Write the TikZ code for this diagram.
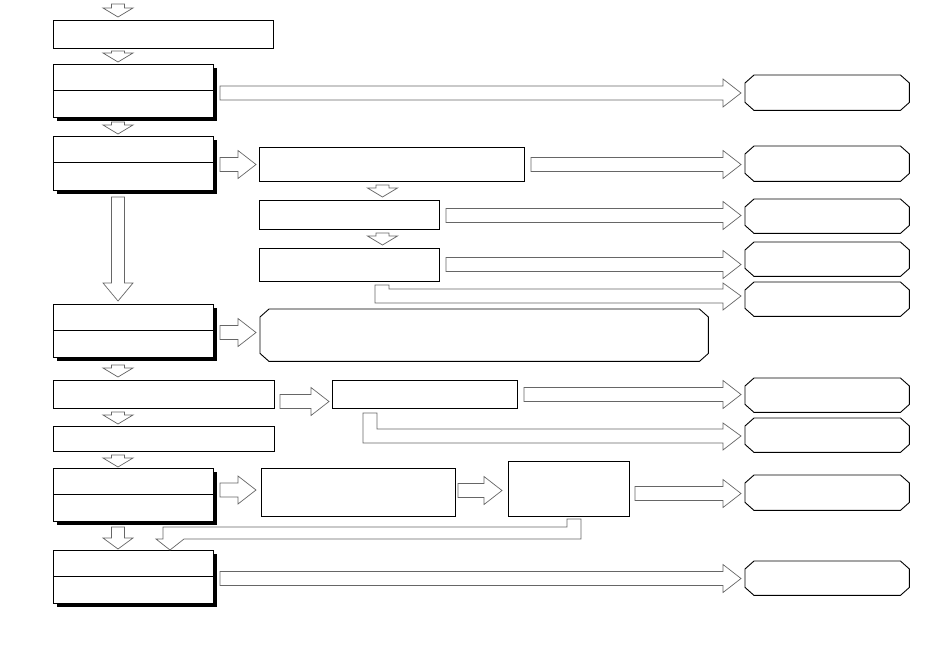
\documentclass[tikz,border=0pt]{standalone}
\usetikzlibrary{calc,shadows}
\tikzset{
  box/.style={draw=black, line width=1pt, fill=white, rectangle, inner sep=0pt, anchor=north west},
  sbox/.style={box, drop shadow={shadow xshift=3.5pt, shadow yshift=-3pt, fill=black, opacity=1}},
  oct/.style={rectangle, inner sep=0pt, anchor=north west},
  octline/.style={draw=black, line width=0.9pt, fill=white, line join=miter},
  barrow/.style={draw=black!60, line width=0.7pt, fill=white, line join=miter},
  divline/.style={draw=black, line width=1pt}
}
\newcommand\rarr[2]{\draw[barrow] let \p1=(#1), \p2=(#2) in
  (\x1,\y1+7pt) -- (\x2-18pt,\y1+7pt) -- (\x2-18pt,\y1+14pt) -- (\x2,\y1)
  -- (\x2-18pt,\y1-14pt) -- (\x2-18pt,\y1-7pt) -- (\x1,\y1-7pt) -- cycle;}
\newcommand\darr[3]{\draw[barrow] let \p1=(#1), \p2=(#2) in
  (\x1-6.5pt,\y1) -- (\x1+6.5pt,\y1) -- (\x1+6.5pt,\y2+#3pt) -- (\x1+15pt,\y2+#3pt)
  -- (\x1,\y2) -- (\x1-15pt,\y2+#3pt) -- (\x1-6.5pt,\y2+#3pt) -- cycle;}
\begin{document}
\begin{tikzpicture}[x=1pt,y=-1pt]
\useasboundingbox (0,0) rectangle (950,648);

% left column
\node[box, minimum width=220pt, minimum height=28pt] (A) at (53,20) {};
\node[sbox, minimum width=160pt, minimum height=53pt] (B) at (53,64) {};
\node[sbox, minimum width=160pt, minimum height=54pt] (C) at (53,136) {};
\node[sbox, minimum width=160pt, minimum height=53pt] (G) at (53,304) {};
\node[box, minimum width=221pt, minimum height=28pt] (H) at (53,380) {};
\node[box, minimum width=221pt, minimum height=25pt] (J) at (53,426) {};
\node[sbox, minimum width=160pt, minimum height=53pt] (K) at (53,468) {};
\node[sbox, minimum width=160pt, minimum height=53pt] (N) at (53,550) {};
\foreach \n in {B,C,G,K,N}{
  \draw[divline] ($(\n.north west)+(0,26)$) -- ($(\n.north east)+(0,26)$);
}

% middle boxes
\node[box, minimum width=265pt, minimum height=34pt] (D) at (259,147) {};
\node[box, minimum width=180pt, minimum height=29pt] (E) at (259,200) {};
\node[box, minimum width=180pt, minimum height=33pt] (F) at (259,248) {};
\node[box, minimum width=185pt, minimum height=28pt] (I) at (332,380) {};
\node[box, minimum width=194pt, minimum height=48pt] (L) at (261,468) {};
\node[box, minimum width=121pt, minimum height=55pt] (M) at (508,461) {};

% octagons (named frames, outline drawn with cut corners)
\node[oct, minimum width=164pt, minimum height=35pt] (O1) at (745,75) {};
\node[oct, minimum width=164pt, minimum height=35pt] (O2) at (745,146) {};
\node[oct, minimum width=164pt, minimum height=34pt] (O3) at (745,199) {};
\node[oct, minimum width=164pt, minimum height=34pt] (O4) at (745,242) {};
\node[oct, minimum width=164pt, minimum height=34pt] (O5) at (745,282) {};
\node[oct, minimum width=448pt, minimum height=52pt] (O6) at (260,309) {};
\node[oct, minimum width=164pt, minimum height=34pt] (O7) at (745,378) {};
\node[oct, minimum width=164pt, minimum height=34pt] (O8) at (745,418) {};
\node[oct, minimum width=164pt, minimum height=35pt] (O9) at (745,475) {};
\node[oct, minimum width=164pt, minimum height=34pt] (O10) at (745,561) {};
\foreach \o in {O1,O2,O3,O4,O5,O6,O7,O8,O9,O10}{
  \draw[octline] ($(\o.north west)+(9,0)$) -- ($(\o.north east)+(-9,0)$)
    -- ($(\o.north east)+(0,8)$) -- ($(\o.south east)+(0,-8)$)
    -- ($(\o.south east)+(-9,0)$) -- ($(\o.south west)+(9,0)$)
    -- ($(\o.south west)+(0,-8)$) -- ($(\o.north west)+(0,8)$) -- cycle;
}

% down arrows
\coordinate (top) at (118,4);
\darr{top}{$(118,0 |- A.north)+(0,-3)$}{9}
\darr{$(118,0 |- A.south)+(0,2)$}{$(118,0 |- B.north)+(0,-2)$}{9}
\darr{$(118,0 |- B.south)+(0,4)$}{$(118,0 |- C.north)+(0,-2)$}{9}
\darr{$(118,0 |- C.south)+(0,6)$}{$(118,0 |- G.north)+(0,-3)$}{18}
\darr{$(118,0 |- G.south)+(0,7)$}{$(118,0 |- H.north)+(0,-3)$}{9}
\darr{$(118,0 |- H.south)+(0,3)$}{$(118,0 |- J.north)+(0,-2)$}{9}
\darr{$(118,0 |- J.south)+(0,3)$}{$(118,0 |- K.north)+(0,-1)$}{9}
\darr{$(118,0 |- K.south)+(0,5)$}{$(118,0 |- N.north)+(0,-1)$}{11}
\darr{$(382.5,0 |- D.south)+(0,3)$}{$(382.5,0 |- E.north)+(0,-3)$}{9}
\darr{$(382.5,0 |- E.south)+(0,3)$}{$(382.5,0 |- F.north)+(0,-3)$}{9}

% right arrows
\rarr{$(B.east)+(6,2)$}{$(O1.west)+(-4,0)$}
\rarr{$(C.east)+(6,1)$}{$(D.west)+(-3,0)$}
\rarr{$(D.east)+(6,0)$}{$(O2.west)+(-4,0)$}
\rarr{$(E.east)+(6,0.5)$}{$(O3.west)+(-4,0)$}
\rarr{$(F.east)+(6,-0.5)$}{$(O4.west)+(-4,0)$}
\rarr{$(G.east)+(6,1.5)$}{$(O6.west)+(-4,0)$}
\rarr{$(H.east)+(5,7)$}{$(I.west)+(-3,0)$}
\rarr{$(I.east)+(6,0)$}{$(O7.west)+(-4,0)$}
\rarr{$(K.east)+(6,-5)$}{$(L.west)+(-5,0)$}
\rarr{$(L.east)+(2,-2)$}{$(M.west)+(-6,0)$}
\rarr{$(M.east)+(5,4.5)$}{$(O9.west)+(-4,0)$}
\rarr{$(N.east)+(6,1.5)$}{$(O10.west)+(-4,0)$}

% elbow arrows
\draw[barrow] ($(F.south west)+(116,3)$) -- ++(14,0) -- ++(0,4) -- ++(334,0) -- ++(0,-6)
  -- ++(18,13) -- ++(-18,14) -- ++(0,-7) -- ++(-348,0) -- cycle;
\draw[barrow] ($(I.south west)+(31,4)$) -- ++(14,0) -- ++(0,16) -- ++(346,0) -- ++(0,-6)
  -- ++(18,13) -- ++(-18,14) -- ++(0,-7) -- ++(-360,0) -- cycle;
\draw[barrow] ($(M.south west)+(59,2)$) -- ++(14,0) -- ++(0,20) -- ++(-397,0)
  -- ++(-14,11) -- ++(-14,-11) -- ++(7,0) -- ++(0,-12) -- ++(404,0) -- cycle;
\end{tikzpicture}
\end{document}
